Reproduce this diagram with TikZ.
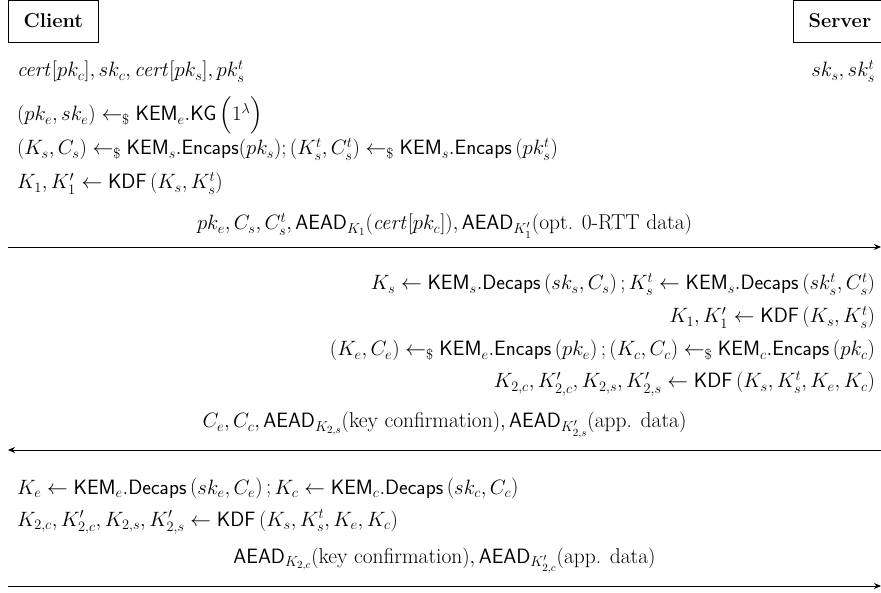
\documentclass[tikz,border=0pt]{standalone}
\usepackage{amsmath}
\usetikzlibrary{arrows.meta}
\begin{document}
\begin{tikzpicture}[x=1pt,y=-1pt,
  every node/.style={inner sep=0pt, outer sep=0pt, font=\fontsize{20}{24}\selectfont},
  party/.style={draw, line width=0.8pt, minimum height=42pt, inner xsep=15.5pt, font=\fontsize{20}{24}\selectfont\bfseries},
  cl/.style={anchor=base west},
  sv/.style={anchor=base east},
  msgtxt/.style={anchor=base, font=\fontsize{21.5}{24}\selectfont},
  msg/.style={line width=0.9pt, -{Stealth[length=7pt,width=6pt]}}
]
\useasboundingbox (0,0) rectangle (881,593);
% parties
\node[party, anchor=north west] (client) at (8,0) {Client};
\node[party, anchor=north west] (server) at (793,0) {Server};
% client initial
\node[cl] (c0) at (17,77) {$\mathit{cert}[pk_c], sk_c, \mathit{cert}[pk_s], pk_s^t$};
\node[sv] (s0) at (875,77) {$sk_s, sk_s^t$};
\node[cl] (c1) at (17,121) {$(pk_e, sk_e) \leftarrow_{\$} \mathsf{KEM}_e.\mathsf{KG}\,\Bigl(1^\lambda\Bigr)$};
\node[cl] (c2) at (17,155) {$(K_s, C_s) \leftarrow_{\$} \mathsf{KEM}_s.\mathsf{Encaps}(pk_s); \left(K_s^t, C_s^t\right) \leftarrow_{\$} \mathsf{KEM}_s.\mathsf{Encaps}\left(pk_s^t\right)$};
\node[cl] (c3) at (17,189) {$K_1, K_1' \leftarrow \mathsf{KDF}\left(K_s, K_s^t\right)$};
% message 1
\coordinate (a1l) at (8,247);
\coordinate (a1r) at (881,247);
\node[msgtxt] (m1) at (444.5,230) {$pk_e, C_s, C_s^t, \mathsf{AEAD}_{K_1}(\mathit{cert}[pk_c]), \mathsf{AEAD}_{K_1'}(\text{opt. 0-RTT data})$};
\draw[msg] (a1l) -- (a1r);
% server computations
\node[sv] (s1) at (875,290) {$K_s \leftarrow \mathsf{KEM}_s.\mathsf{Decaps}\left(sk_s, C_s\right); K_s^t \leftarrow \mathsf{KEM}_s.\mathsf{Decaps}\left(sk_s^t, C_s^t\right)$};
\node[sv] (s2) at (875,323) {$K_1, K_1' \leftarrow \mathsf{KDF}\left(K_s, K_s^t\right)$};
\node[sv] (s3) at (875,356) {$(K_e, C_e) \leftarrow_{\$} \mathsf{KEM}_e.\mathsf{Encaps}\left(pk_e\right); (K_c, C_c) \leftarrow_{\$} \mathsf{KEM}_c.\mathsf{Encaps}\left(pk_c\right)$};
\node[sv] (s4) at (875,388) {$K_{2,c}, K_{2,c}', K_{2,s}, K_{2,s}' \leftarrow \mathsf{KDF}\left(K_s, K_s^t, K_e, K_c\right)$};
% message 2
\coordinate (a2l) at (8,450);
\coordinate (a2r) at (881,450);
\node[msgtxt] (m2) at (444.5,428) {$C_e, C_c, \mathsf{AEAD}_{K_{2,s}}(\text{key confirmation}), \mathsf{AEAD}_{K_{2,s}'}(\text{app. data})$};
\draw[msg] (a2r) -- (a2l);
% client final
\node[cl] (c4) at (17,494) {$K_e \leftarrow \mathsf{KEM}_e.\mathsf{Decaps}\left(sk_e, C_e\right); K_c \leftarrow \mathsf{KEM}_c.\mathsf{Decaps}\left(sk_c, C_c\right)$};
\node[cl] (c5) at (17,526) {$K_{2,c}, K_{2,c}', K_{2,s}, K_{2,s}' \leftarrow \mathsf{KDF}\left(K_s, K_s^t, K_e, K_c\right)$};
% message 3
\coordinate (a3l) at (8,586);
\coordinate (a3r) at (881,586);
\node[msgtxt] (m3) at (444.5,563) {$\mathsf{AEAD}_{K_{2,c}}(\text{key confirmation}), \mathsf{AEAD}_{K_{2,c}'}(\text{app. data})$};
\draw[msg] (a3l) -- (a3r);
\end{tikzpicture}
\end{document}
